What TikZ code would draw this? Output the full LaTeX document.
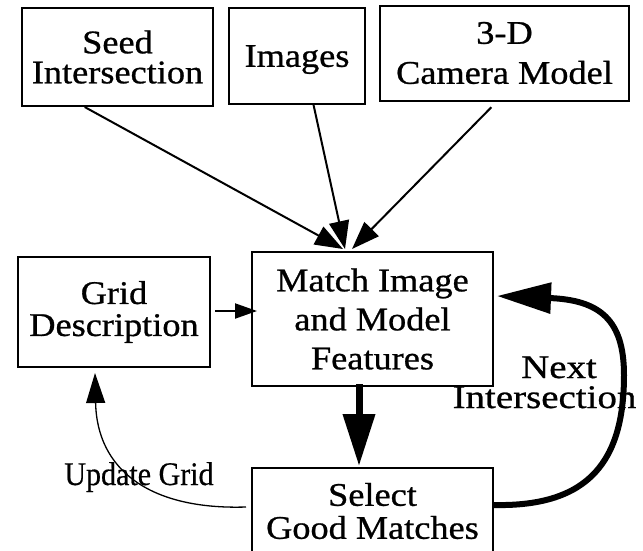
\documentclass[tikz,border=0pt]{standalone}
\usepackage{fontspec}
\setmainfont{Liberation Serif}
\newfontfamily\boxfont[FakeStretch=1.1,FakeBold=0.8]{Liberation Serif}
\newfontfamily\wideboxfont[FakeStretch=1.18,FakeBold=0.8]{Liberation Serif}
\newfontfamily\narrowfont[FakeStretch=0.91,FakeBold=0.5]{Liberation Serif}
\usetikzlibrary{arrows.meta,calc}
\begin{document}
\begin{tikzpicture}[x=1pt,y=-1pt,
  box/.style={draw, line width=2pt, rectangle, inner sep=0pt, align=center},
  feed/.style={line width=2pt, -{Triangle[length=28pt,width=20pt]}},
  thickflow/.style={-{Triangle[length=52pt,width=31pt]}},
  label/.style={inner sep=0pt, anchor=base}]
\useasboundingbox (0,0) rectangle (643,550);
\clip (0,0) rectangle (643,550);

% boxes
\node[box, minimum width=191pt, minimum height=98pt,
      font=\boxfont\fontsize{33}{30}\selectfont] (seed) at (117.5,57) {Seed\\Intersection};
\node[box, minimum width=136pt, minimum height=96pt, text depth=0pt,
      font=\boxfont\fontsize{33}{30}\selectfont] (images) at (297,56) {Images};
\node[box, minimum width=249pt, minimum height=95pt,
      font=\boxfont\fontsize{33}{40}\selectfont] (camera) at (504.5,53) {3-D\\Camera Model};
\node[box, minimum width=192pt, minimum height=110pt,
      font=\boxfont\fontsize{33}{32}\selectfont] (grid) at (114,312) {Grid\\Description};
\node[box, minimum width=241pt, minimum height=134pt,
      font=\boxfont\fontsize{33}{39}\selectfont] (match) at (372.5,319) {Match Image\\and Model\\Features};
\node[box, minimum width=241pt, minimum height=86pt,
      font=\boxfont\fontsize{33}{33}\selectfont] (select) at (372.5,511) {Select\\Good Matches};

% labels
\node[label, font=\narrowfont\fontsize{33}{33}\selectfont] (upd) at (139,485) {Update Grid};
\node[label, align=center, font=\wideboxfont\fontsize{33}{30}\selectfont] (nxt) at (544.5,408)
  {\hspace*{29pt}Next\\Intersection};

% inputs to matching
\draw[feed] ($(seed.south west)!0.33!(seed.south east)$) -- ($(match.north)+(-29.5,-2)$);
\draw[feed] ($(images.south west)!0.62!(images.south east)$) -- ($(match.north)+(-27.5,-2)$);
\draw[feed, shorten <=8pt] ($(camera.south west)!0.47!(camera.south east)$) -- ($(match.north)+(-20.5,-2)$);

% grid description to matching
\draw[line width=2pt, -{Triangle[length=22pt,width=15pt]}]
  ($(grid.east)+(4,-1)$) -- ($(match.west |- grid.east)+(6,-1)$);

% matching to selection
\draw[line width=7pt, thickflow]
  ($(match.south)+(-13.5,-3)$) -- ($(select.north)+(-13.5,-1)$);

% next intersection loop
\draw[line width=6pt, -{Triangle[length=54pt,width=30pt]}]
  ($(select.east)+(0,-6)$) .. controls (590,507) and (624,460) .. (624,375)
  .. controls (624,320) and (600,300) .. ($(match.east)+(3,-23)$);

% update grid
\draw[line width=1.3pt, -{Triangle[length=30pt,width=19pt]}]
  ($(select.west)+(-5,-4)$) .. controls (150,510) and (97,470) .. ($(grid.south)+(-19,5)$);
\end{tikzpicture}
\end{document}
